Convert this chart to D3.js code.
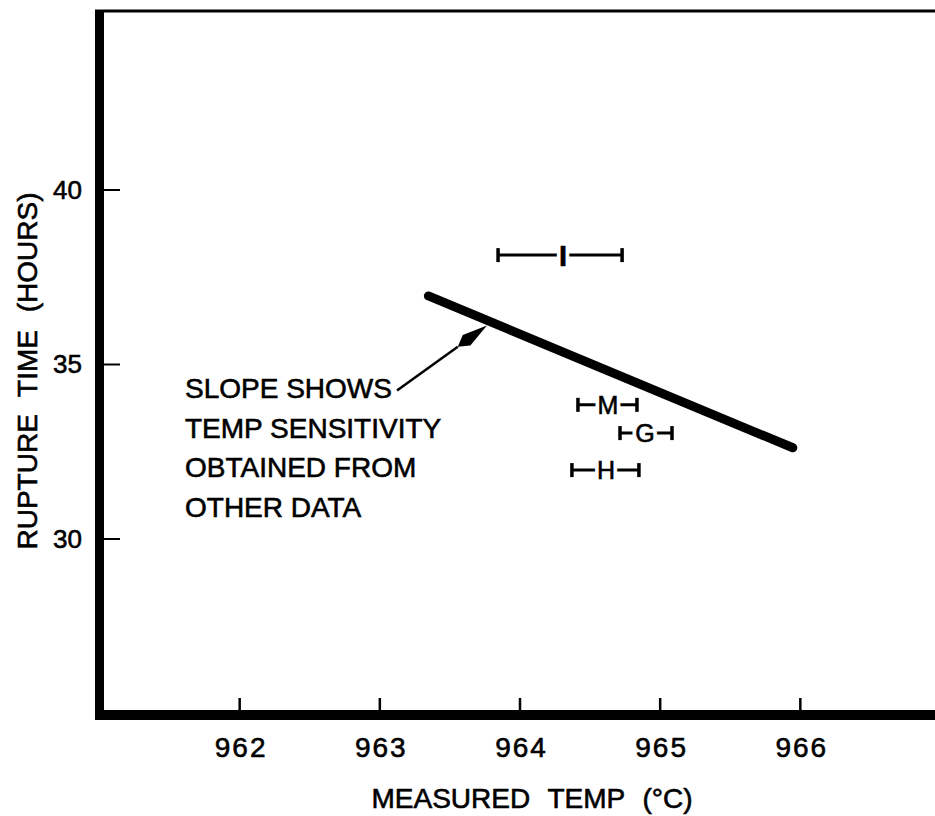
<html>
<head>
    <script src="https://d3js.org/d3.v7.min.js"></script>
    <style type="text/css">
        body { margin: 0; background: white; }
        text { font-family: "Liberation Sans", Arial, sans-serif; fill: black; }
        text.ink { stroke: black; stroke-width: 0.6; }
    </style>
</head>
<body>
    <svg id="chart"></svg>
    <script>
        var Width = 935, Height = 816;

        // error bar samples
        var labels = ["I", "M", "G", "H"];
        var tempCenter = [964.31, 964.63, 964.895, 964.617];
        var tempLow = [963.847, 964.417, 964.717, 964.374];
        var tempHigh = [964.732, 964.838, 965.088, 964.852];
        var ruptureHours = [38.12, 33.83, 33.02, 31.96];

        // slope line from other data
        var slopeTemp = [963.35, 965.95];
        var slopeHours = [36.95, 32.6];

        // annotation arrow (tail, tip)
        var arrowTemp = [963.126, 963.768];
        var arrowHours = [34.24, 36.10];

        var xTicks = [962, 963, 964, 965, 966];
        var yTicks = [30, 35, 40];
        var noteLines = ["SLOPE SHOWS", "TEMP SENSITIVITY", "OBTAINED FROM", "OTHER DATA"];

        var x = d3.scaleLinear().domain([961, 967]).range([99, 940]);
        var y = d3.scaleLinear().domain([25, 45]).range([713, 15]);

        var svg = d3.select("#chart").attr("width", Width).attr("height", Height);

        // frame
        svg.append("line")
            .attr("x1", 99.5).attr("y1", 10).attr("x2", 99.5).attr("y2", 720)
            .attr("stroke", "black").attr("stroke-width", 9);
        svg.append("line")
            .attr("x1", 95).attr("y1", 715).attr("x2", 935).attr("y2", 715)
            .attr("stroke", "black").attr("stroke-width", 10);
        svg.append("line")
            .attr("x1", 95).attr("y1", 11).attr("x2", 935).attr("y2", 11)
            .attr("stroke", "black").attr("stroke-width", 3);

        // y axis
        var yAxis = d3.axisRight(y).tickValues(yTicks).tickSize(17).tickFormat("");
        var gy = svg.append("g").attr("transform", "translate(103,0)").call(yAxis);
        gy.select(".domain").remove();
        gy.selectAll(".tick line").attr("stroke", "black").attr("stroke-width", 2);

        svg.selectAll(".ylab")
            .data(yTicks)
            .enter()
            .append("text").attr("class", "ylab ink")
                .attr("x", 82)
                .attr("y", function(d){ return y(d); })
                .attr("dy", "0.35em")
                .attr("text-anchor", "end")
                .attr("font-size", 26)
                .text(function(d){ return d; });

        // x axis
        var xAxis = d3.axisTop(x).tickValues(xTicks).tickSize(13).tickFormat("");
        var gx = svg.append("g").attr("transform", "translate(0,711)").call(xAxis);
        gx.select(".domain").remove();
        gx.selectAll(".tick line").attr("stroke", "black").attr("stroke-width", 2.5);

        svg.selectAll(".xlab")
            .data(xTicks)
            .enter()
            .append("text").attr("class", "xlab ink")
                .attr("x", function(d){ return x(d) + 2; })
                .attr("y", 757)
                .attr("text-anchor", "middle")
                .attr("font-size", 28)
                .attr("letter-spacing", 2)
                .text(function(d){ return d; });

        // axis titles
        svg.append("text").attr("class", "ink")
            .attr("x", 532).attr("y", 808)
            .attr("text-anchor", "middle")
            .attr("font-size", 28)
            .attr("word-spacing", 10)
            .text("MEASURED TEMP (°C)");

        svg.append("text").attr("class", "ink")
            .attr("transform", "translate(37,371) rotate(-90)")
            .attr("text-anchor", "middle")
            .attr("font-size", 28)
            .attr("word-spacing", 10)
            .text("RUPTURE TIME (HOURS)");

        // slope line
        var slopeData = d3.range(slopeTemp.length).map(function(i){ return [slopeTemp[i], slopeHours[i]]; });
        svg.append("path")
            .datum(slopeData)
            .attr("d", d3.line().x(function(d){ return x(d[0]); }).y(function(d){ return y(d[1]); }))
            .attr("fill", "none")
            .attr("stroke", "black")
            .attr("stroke-width", 9)
            .attr("stroke-linecap", "round");

        // error bars
        var bars = d3.range(labels.length).map(function(i){
            return {
                label: labels[i],
                c: tempCenter[i],
                lo: tempLow[i],
                hi: tempHigh[i],
                h: ruptureHours[i]
            };
        });

        var gb = svg.selectAll(".bar").data(bars).enter().append("g").classed("bar", true);
        gb.append("line")
            .attr("x1", function(d){ return x(d.lo); })
            .attr("x2", function(d){ return x(d.hi); })
            .attr("y1", function(d){ return y(d.h); })
            .attr("y2", function(d){ return y(d.h); })
            .attr("stroke", "black").attr("stroke-width", 3);
        gb.selectAll(".cap")
            .data(function(d){ return [d.lo, d.hi].map(function(v){ return {v: v, h: d.h}; }); })
            .enter()
            .append("line").classed("cap", true)
                .attr("x1", function(d){ return x(d.v); })
                .attr("x2", function(d){ return x(d.v); })
                .attr("y1", function(d){ return y(d.h) - 7; })
                .attr("y2", function(d){ return y(d.h) + 7; })
                .attr("stroke", "black").attr("stroke-width", 3.5);
        // white halo behind each letter breaks the bar
        gb.append("text")
            .attr("x", function(d){ return x(d.c); })
            .attr("y", function(d){ return y(d.h); })
            .attr("dy", "0.36em")
            .attr("text-anchor", "middle")
            .attr("font-size", function(d){ return d.label == "I" ? 29 : 25; })
            .attr("font-family", function(d){ return d.label == "I" ? "Liberation Serif" : null; })
            .attr("font-weight", function(d){ return d.label == "I" ? "bold" : null; })
            .attr("stroke", "white")
            .attr("stroke-width", 8)
            .text(function(d){ return d.label; });
        gb.append("text").attr("class", "ink")
            .attr("x", function(d){ return x(d.c); })
            .attr("y", function(d){ return y(d.h); })
            .attr("dy", "0.36em")
            .attr("text-anchor", "middle")
            .attr("font-size", function(d){ return d.label == "I" ? 29 : 25; })
            .attr("font-family", function(d){ return d.label == "I" ? "Liberation Serif" : null; })
            .attr("font-weight", function(d){ return d.label == "I" ? "bold" : null; })
            .text(function(d){ return d.label; });

        // annotation
        svg.selectAll(".note")
            .data(noteLines)
            .enter()
            .append("text").attr("class", "note ink")
                .attr("x", 185)
                .attr("y", function(d, i){ return 398 + i*39.7; })
                .attr("font-size", 28)
                .text(function(d){ return d; });

        var x0 = x(arrowTemp[0]), y0 = y(arrowHours[0]);
        var x1 = x(arrowTemp[1]), y1 = y(arrowHours[1]);
        var len = Math.sqrt((x1-x0)*(x1-x0) + (y1-y0)*(y1-y0));
        var ux = (x1-x0)/len, uy = (y1-y0)/len;
        var headLen = 36, headW = 6.5;
        var bx = x1 - ux*headLen, by = y1 - uy*headLen;
        var mx = x1 - ux*headLen*0.7, my = y1 - uy*headLen*0.7;
        svg.append("line")
            .attr("x1", x0).attr("y1", y0).attr("x2", bx).attr("y2", by)
            .attr("stroke", "black").attr("stroke-width", 2.5);
        svg.append("path")
            .attr("d", "M" + x1 + "," + y1 +
                "L" + (mx - uy*headW) + "," + (my + ux*headW) +
                "L" + bx + "," + by +
                "L" + (mx + uy*headW) + "," + (my - ux*headW) + "Z")
            .attr("fill", "black");
    </script>
</body>
</html>
